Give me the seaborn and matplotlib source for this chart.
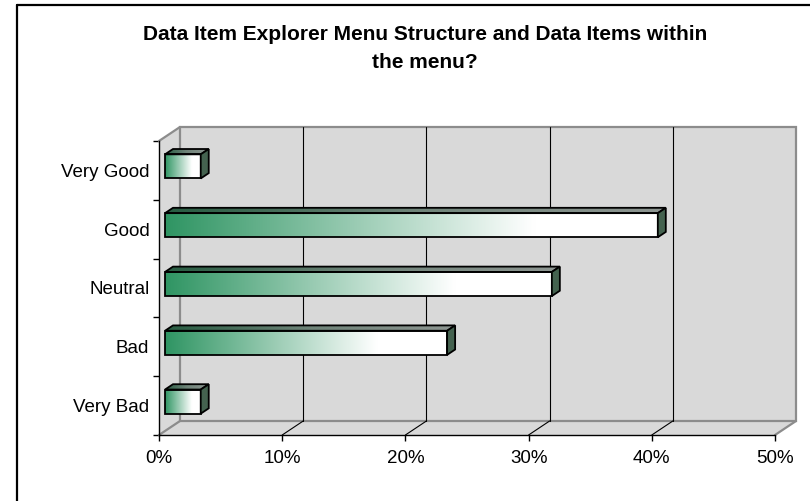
import numpy as np
import pandas as pd
import matplotlib
matplotlib.use("Agg")
import matplotlib.pyplot as plt
import seaborn as sns
from matplotlib.patches import Polygon
from matplotlib.lines import Line2D
from matplotlib.colors import LinearSegmentedColormap

# ---- data ----
categories = ["Very Good", "Good", "Neutral", "Bad", "Very Bad"]
shares = [2.9, 40.0, 31.4, 22.9, 2.9]
x_ticks = [0, 10, 20, 30, 40, 50]
x_tick_labels = ["0%", "10%", "20%", "30%", "40%", "50%"]
title = "Data Item Explorer Menu Structure and Data Items within\nthe menu?"

# ---- styling ----
WALL = "#d9d9d9"
WALL_EDGE = "#8c8c8c"
BAR_GREEN = "#2f9563"

sns.set_theme(style="white")
plt.rcParams["font.family"] = ["Liberation Sans", "DejaVu Sans"]

W, H = 810, 501
fig = plt.figure(figsize=(W / 100, H / 100), dpi=100)
fig.patch.set_facecolor("white")

# front plane of the plot box (pixels)
L, R, T, B = 159, 775, 141, 435
ax = fig.add_axes([L / W, 1 - B / H, (R - L) / W, (B - T) / H])
ax.set_facecolor("none")

n = len(categories)
xmax = x_ticks[-1]
ytop, ybot = -0.5, n - 0.5

# depth direction of the 3-D box, in data units (21 px right, 14 px up)
px_x = xmax / (R - L)
px_y = n / (B - T)
DEPTH = np.array([21 * px_x, -14 * px_y])


def back(x, y, f=1.0):
    return (x + f * DEPTH[0], y + f * DEPTH[1])


df = pd.DataFrame({"category": categories, "share": shares})
sns.barplot(data=df, x="share", y="category", orient="h", width=0.41,
            color=BAR_GREEN, edgecolor="black", linewidth=1.3,
            ax=ax, zorder=6)
bars = list(ax.patches)

# ---- walls and floor ----
left_wall = Polygon([(0, ytop), (0, ybot), back(0, ybot), back(0, ytop)],
                    closed=True, facecolor=WALL, edgecolor="none",
                    zorder=0, clip_on=False)
floor = Polygon([(0, ybot), (xmax, ybot), back(xmax, ybot), back(0, ybot)],
                closed=True, facecolor=WALL, edgecolor="none",
                zorder=0, clip_on=False)
back_wall = Polygon([back(0, ytop), back(xmax, ytop), back(xmax, ybot),
                     back(0, ybot)], closed=True, facecolor=WALL,
                    edgecolor=WALL_EDGE, linewidth=1.6, zorder=1,
                    clip_on=False)
for p in (left_wall, floor, back_wall):
    ax.add_patch(p)

# wall edges running into depth
for (x, y) in [(0, ytop), (0, ybot), (xmax, ybot)]:
    bx, by = back(x, y)
    ax.add_line(Line2D([x, bx], [y, by], color=WALL_EDGE, lw=1.6,
                       zorder=1.5, clip_on=False))

# gridlines on the back wall and floor
for t in x_ticks[1:-1]:
    (bx0, by0), (bx1, by1) = back(t, ytop), back(t, ybot)
    ax.add_line(Line2D([bx0, bx1], [by0, by1], color="black", lw=0.8,
                       zorder=2, clip_on=False))
    ax.add_line(Line2D([t, bx1], [ybot, by1], color="black", lw=0.8,
                       zorder=2, clip_on=False))

# ---- 3-D bars ----
front_f = 6 / 21
depth_f = 8 / 21
front_cmap = LinearSegmentedColormap.from_list(
    "front", [(0, BAR_GREEN), (0.75, "#ffffff"), (1, "#ffffff")])
top_cmap = LinearSegmentedColormap.from_list(
    "top", ["#275c41", "#6f8479", "#8e9692"])
side_cmap = LinearSegmentedColormap.from_list(
    "side", ["#34553f", "#5d7568"])
grad = np.linspace(0, 1, 256).reshape(1, -1)

for bar in bars:
    x0, y0 = bar.get_x(), bar.get_y()
    w, h = bar.get_width(), bar.get_height()
    sx, sy = back(x0, y0, front_f)
    bar.set_x(sx)
    bar.set_y(sy)
    bar.set_facecolor("none")
    bar.set_clip_on(False)
    x1 = sx + w
    y1 = sy + h

    img = ax.imshow(grad, cmap=front_cmap, aspect="auto",
                    extent=[sx, x1, y1, sy], zorder=5,
                    interpolation="bilinear")
    img.set_clip_path(bar)

    top = Polygon([(sx, sy), (x1, sy), back(x1, sy, depth_f),
                   back(sx, sy, depth_f)], closed=True, facecolor="none",
                  edgecolor="black", linewidth=1.3, zorder=6,
                  clip_on=False)
    ax.add_patch(top)
    tx1, ty1 = back(x1, sy, depth_f)
    img_t = ax.imshow(grad, cmap=top_cmap, aspect="auto",
                      extent=[sx, tx1, sy, ty1], zorder=5,
                      interpolation="bilinear")
    img_t.set_clip_path(top)

    side = Polygon([(x1, sy), (x1, y1), back(x1, y1, depth_f),
                    back(x1, sy, depth_f)], closed=True,
                   facecolor=side_cmap(0.4), edgecolor="black",
                   linewidth=1.3, zorder=6, clip_on=False)
    ax.add_patch(side)

# ---- axes, ticks, labels ----
ax.set_xlim(0, xmax)
ax.set_ylim(ybot, ytop)
ax.set_xticks(x_ticks)
ax.set_xticklabels(x_tick_labels)
ax.set_yticks(range(n))
ax.set_yticklabels(categories)
ax.set_yticks(np.arange(n + 1) - 0.5, minor=True)
ax.set_xlabel("")
ax.set_ylabel("")
for side_name in ("top", "right"):
    ax.spines[side_name].set_visible(False)
for side_name in ("left", "bottom"):
    ax.spines[side_name].set_color("black")
    ax.spines[side_name].set_linewidth(1.0)
    ax.spines[side_name].set_zorder(3)
ax.tick_params(axis="x", which="major", length=4, width=1, color="black",
               direction="out", pad=7, labelsize=13.5, labelcolor="black",
               bottom=True)
ax.tick_params(axis="y", which="major", length=0, pad=7, labelsize=13.5,
               labelcolor="black", left=True)
ax.tick_params(axis="y", which="minor", length=4, width=1, color="black",
               direction="out", left=True)

# ---- title ----
fig.text(425 / W, 1 - 25 / H, title, ha="center", va="top", fontsize=15,
         fontweight="bold", linespacing=1.6, color="black")

# ---- chart frame (top and left edges) ----
fig.add_artist(Line2D([17 / W, 17 / W], [0, 1 - 4.5 / H],
                      transform=fig.transFigure, color="black", lw=1.6))
fig.add_artist(Line2D([17 / W, 1], [1 - 4.5 / H, 1 - 4.5 / H],
                      transform=fig.transFigure, color="black", lw=1.6))

fig.savefig("out.png", dpi=100, facecolor="white")
